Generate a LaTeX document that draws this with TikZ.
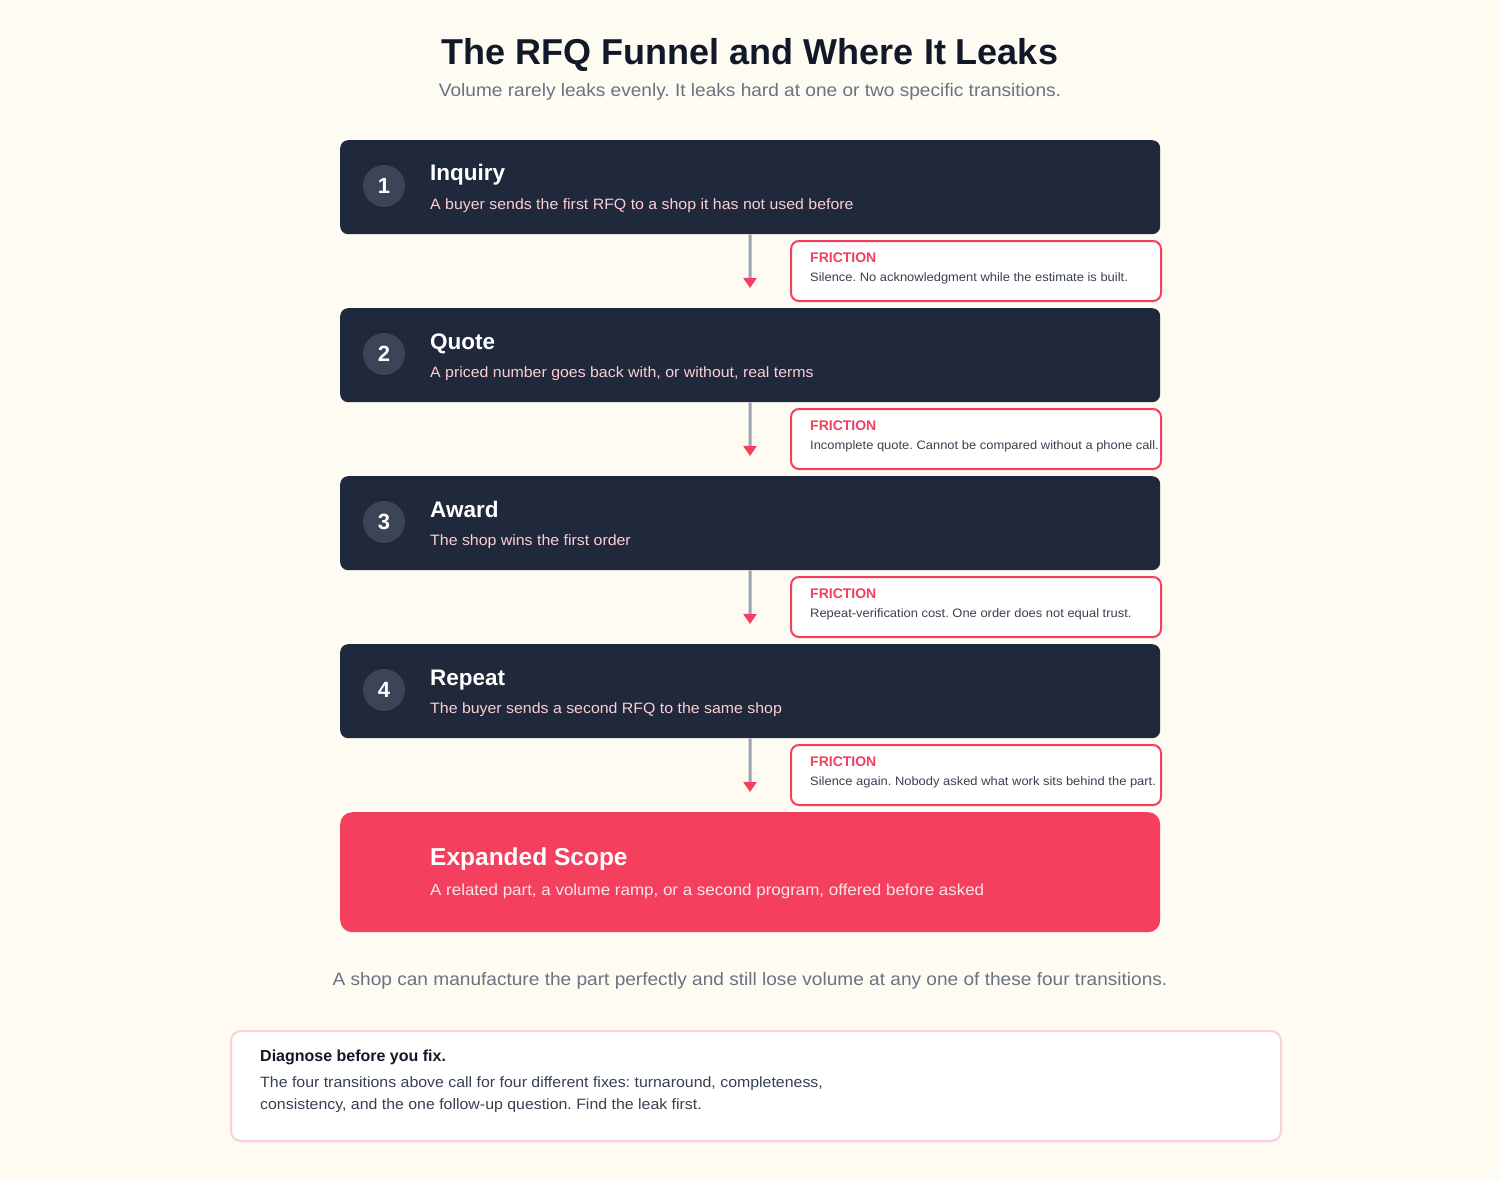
\documentclass[tikz,border=0pt]{standalone}
\usepackage{fontspec}
\setmainfont{Liberation Sans}
\newfontfamily\regw[FakeStretch=1.06]{Liberation Sans}
\frenchspacing
\usetikzlibrary{arrows.meta}
\definecolor{bgc}{HTML}{FEFBF3}
\definecolor{navy}{HTML}{1F293B}
\definecolor{ink}{HTML}{111827}
\definecolor{muted}{HTML}{6B7280}
\definecolor{rose}{HTML}{F43F5E}
\definecolor{pinksub}{HTML}{FECDD3}
\definecolor{pinklight}{HTML}{FFE4E6}
\definecolor{circ}{HTML}{3B4557}
\definecolor{body}{HTML}{374151}
\definecolor{stem}{HTML}{9CA3AF}
\definecolor{softborder}{HTML}{FBCFD8}
\newcommand{\fs}[1]{\fontsize{#1}{#1}\selectfont}
\tikzset{
  stagebox/.style={fill=navy, draw=none, rounded corners=8pt, minimum width=820pt, minimum height=94pt, anchor=north west, inner sep=0pt},
  numcirc/.style={circle, fill=circ, minimum size=42pt, inner sep=0pt, text=white, font=\bfseries\fs{22}},
  stagetitle/.style={anchor=base west, inner sep=0pt, text=white, font=\bfseries\fs{22.5}},
  stagesub/.style={anchor=base west, inner sep=0pt, text=pinksub, font=\regw\fs{15}},
  fricbox/.style={fill=white, draw=rose, line width=2pt, rounded corners=8pt, minimum width=370pt, minimum height=60pt, anchor=north west, inner sep=0pt},
  friclabel/.style={anchor=base west, inner sep=0pt, text=rose, font=\bfseries\fs{14}},
  frictext/.style={anchor=base west, inner sep=0pt, text=body, font=\regw\fs{12.2}},
  flow/.style={draw=stem, line width=3pt, -{Triangle[width=13pt,length=10pt,color=rose]}},
}
\begin{document}
\begin{tikzpicture}[x=1pt,y=-1pt]
\fill[bgc] (0,0) rectangle (1500,1180);
\useasboundingbox (0,0) rectangle (1500,1180);

\node[anchor=base, inner sep=0pt, text=ink, font=\bfseries\fs{36}] (title) at (750,65) {The RFQ Funnel and Where It Leaks};
\node[anchor=base, inner sep=0pt, text=muted, font=\regw\fs{18}] (subtitle) at (750,97) {Volume rarely leaks evenly. It leaks hard at one or two specific transitions.};

% stages
\node[stagebox] (s1) at (340,140) {};
\node[stagebox] (s2) at (340,308) {};
\node[stagebox] (s3) at (340,476) {};
\node[stagebox] (s4) at (340,644) {};
\node[fill=rose, draw=none, rounded corners=12pt, minimum width=820pt, minimum height=120pt, anchor=north west, inner sep=0pt] (s5) at (340,812) {};

\node[numcirc] (n1) at (384,186) {1};
\node[numcirc] (n2) at (384,354) {2};
\node[numcirc] (n3) at (384,522) {3};
\node[numcirc] (n4) at (384,690) {4};

\node[stagetitle] (t1) at (430,181) {Inquiry};
\node[stagesub] (d1) at (430,209) {A buyer sends the first RFQ to a shop it has not used before};
\node[stagetitle] (t2) at (430,349) {Quote};
\node[stagesub] (d2) at (430,377) {A priced number goes back with, or without, real terms};
\node[stagetitle] (t3) at (430,517) {Award};
\node[stagesub] (d3) at (430,545) {The shop wins the first order};
\node[stagetitle] (t4) at (430,685) {Repeat};
\node[stagesub] (d4) at (430,713) {The buyer sends a second RFQ to the same shop};
\node[anchor=base west, inner sep=0pt, text=white, font=\bfseries\fs{24.5}] (t5) at (430,865) {Expanded Scope};
\node[anchor=base west, inner sep=0pt, text=pinklight, font=\regw\fs{16}] (d5) at (430,895) {A related part, a volume ramp, or a second program, offered before asked};

% connectors
\coordinate (e1) at (750,288);
\coordinate (e2) at (750,456);
\coordinate (e3) at (750,624);
\coordinate (e4) at (750,792);
\draw[flow] (s1.south) -- (e1);
\draw[flow] (s2.south) -- (e2);
\draw[flow] (s3.south) -- (e3);
\draw[flow] (s4.south) -- (e4);

% friction boxes
\node[fricbox] (f1) at (790,240) {};
\node[friclabel] (fl1) at (810,262) {FRICTION};
\node[frictext] (ft1) at (810,281) {Silence. No acknowledgment while the estimate is built.};
\node[fricbox] (f2) at (790,408) {};
\node[friclabel] (fl2) at (810,430) {FRICTION};
\node[frictext] (ft2) at (810,449) {Incomplete quote. Cannot be compared without a phone call.};
\node[fricbox] (f3) at (790,576) {};
\node[friclabel] (fl3) at (810,598) {FRICTION};
\node[frictext] (ft3) at (810,617) {Repeat-verification cost. One order does not equal trust.};
\node[fricbox] (f4) at (790,744) {};
\node[friclabel] (fl4) at (810,766) {FRICTION};
\node[frictext] (ft4) at (810,785) {Silence again. Nobody asked what work sits behind the part.};

% caption
\node[anchor=base, inner sep=0pt, text=muted, font=\regw\fs{18}] (cap) at (750,985) {A shop can manufacture the part perfectly and still lose volume at any one of these four transitions.};

% bottom note
\node[fill=white, draw=softborder, line width=2pt, rounded corners=10pt, minimum width=1050pt, minimum height=110pt, anchor=north west, inner sep=0pt] (note) at (230,1030) {};
\node[anchor=base west, inner sep=0pt, text=ink, font=\bfseries\fs{16}] (nt) at (260,1061) {Diagnose before you fix.};
\node[anchor=base west, inner sep=0pt, text=body, font=\regw\fs{15}] (nb1) at (260,1087) {The four transitions above call for four different fixes: turnaround, completeness,};
\node[anchor=base west, inner sep=0pt, text=body, font=\regw\fs{15}] (nb2) at (260,1109) {consistency, and the one follow-up question. Find the leak first.};
\end{tikzpicture}
\end{document}
